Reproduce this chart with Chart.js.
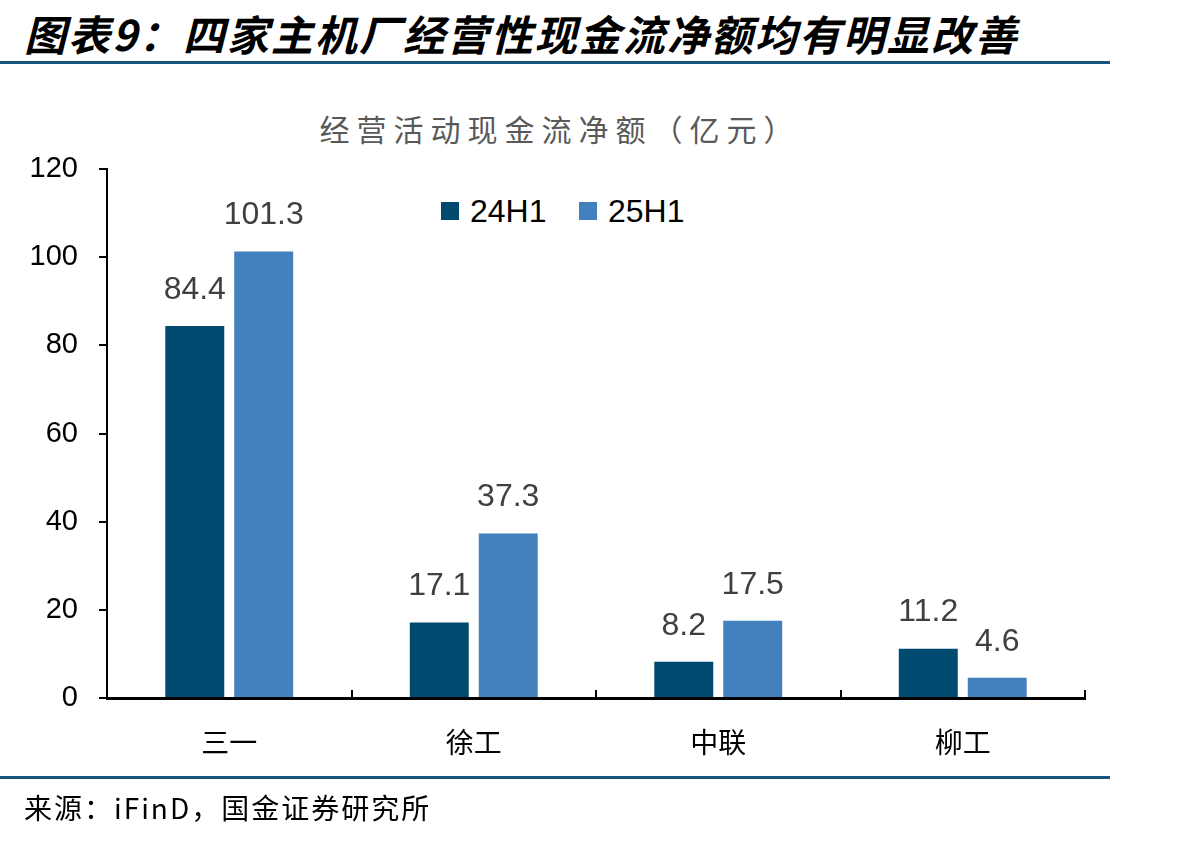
<!DOCTYPE html>
<html>
<head>
<meta charset="utf-8">
<script src="https://cdn.jsdelivr.net/npm/chart.js@4.4.0/dist/chart.umd.min.js"></script>
<style>
  body { margin: 0; background: #fff; width: 1198px; height: 841px; position: relative; overflow: hidden; }
  .title { position: absolute; left: 24px; top: 2px; font: italic bold 42px "Noto Sans CJK SC"; letter-spacing: 2px; color: #000; white-space: nowrap; }
  .rule { position: absolute; left: 0; width: 1110px; height: 3px; background: #17557f; }
  .subtitle { position: absolute; left: 0; width: 1120px; top: 106px; text-align: center; font: 30px "Noto Sans CJK SC"; letter-spacing: 7px; color: #595959; }
  .source { position: absolute; left: 24px; top: 787px; font: 28px "Noto Sans CJK SC"; letter-spacing: 2px; color: #000; white-space: nowrap; }
  .legend { position: absolute; top: 193px; font: 32px "Liberation Sans", Arial, sans-serif; color: #000; }
  .legend span.box { display: inline-block; width: 18px; height: 18px; margin-right: 11px; vertical-align: 2px; }
  #wrap { position: absolute; left: 0; top: 0; width: 1198px; height: 841px; }
</style>
</head>
<body>
<div class="title">图表9：四家主机厂经营性现金流净额均有明显改善</div>
<div class="rule" style="top:61px"></div>
<div class="subtitle">经营活动现金流净额（亿元）</div>
<div class="legend" style="left:441px"><span class="box" style="background:#004a6f"></span>24H1</div>
<div class="legend" style="left:579px"><span class="box" style="background:#4280be"></span>25H1</div>
<div id="wrap"><canvas id="chart"></canvas></div>
<div class="rule" style="top:776px"></div>
<div class="source">来源：iFinD，国金证券研究所</div>

<script>
// data
const companies = ['三一', '徐工', '中联', '柳工'];
const h1_2024 = [84.4, 17.1, 8.2, 11.2];
const h1_2025 = [101.3, 37.3, 17.5, 4.6];
const yTicks = [0, 20, 40, 60, 80, 100, 120];

// value labels above each bar
const barLabels = {
    id: 'barLabels',
    afterDatasetsDraw(chart) {
        const ctx = chart.ctx;
        ctx.save();
        ctx.font = '32px "Liberation Sans", Arial, sans-serif';
        ctx.fillStyle = '#404040';
        ctx.textAlign = 'center';
        ctx.textBaseline = 'middle';
        chart.data.datasets.forEach((ds, i) => {
            chart.getDatasetMeta(i).data.forEach((bar, j) => {
                ctx.fillText(ds.data[j].toFixed(1), bar.x, bar.y - 36);
            });
        });
        ctx.restore();
    }
};

// small category ticks pointing up from the x axis
const innerTicks = {
    id: 'innerTicks',
    afterDraw(chart) {
        const x = chart.scales.x, ctx = chart.ctx;
        const n = chart.data.labels.length;
        ctx.save();
        ctx.strokeStyle = '#000';
        ctx.lineWidth = 2;
        for (let i = 1; i <= n; i++) {
            const px = Math.round(x.left + i * x.width / n);
            ctx.beginPath();
            ctx.moveTo(px, x.top);
            ctx.lineTo(px, x.top - 8);
            ctx.stroke();
        }
        ctx.restore();
    }
};

new Chart(document.getElementById('chart'), {
    type: 'bar',
    data: {
        labels: companies,
        datasets: [
            { label: '24H1', data: h1_2024, backgroundColor: '#004a6f' },
            { label: '25H1', data: h1_2025, backgroundColor: '#4280be' }
        ]
    },
    options: {
        responsive: true,
        maintainAspectRatio: false,
        animation: false,
        categoryPercentage: 0.564,
        barPercentage: 0.855,
        layout: { padding: { top: 169, right: 113, left: 0, bottom: 0 } },
        plugins: {
            legend: { display: false },
            tooltip: { enabled: false }
        },
        scales: {
            x: {
                grid: { display: false },
                border: { color: '#000', width: 3 },
                ticks: {
                    padding: 20,
                    color: '#000',
                    font: { family: '"Noto Sans CJK SC"', size: 28 }
                },
                afterFit(scale) { scale.height = 143; }
            },
            y: {
                min: 0,
                max: 120,
                afterBuildTicks(scale) { scale.ticks = yTicks.map(v => ({ value: v })); },
                grid: { drawOnChartArea: false, tickLength: 8, color: '#000', lineWidth: 2 },
                border: { color: '#000', width: 2 },
                ticks: {
                    padding: 21,
                    color: '#000',
                    font: { family: '"Liberation Sans", Arial, sans-serif', size: 29 }
                },
                afterFit(scale) { scale.width = 107; }
            }
        }
    },
    plugins: [barLabels, innerTicks]
});
</script>
</body>
</html>
